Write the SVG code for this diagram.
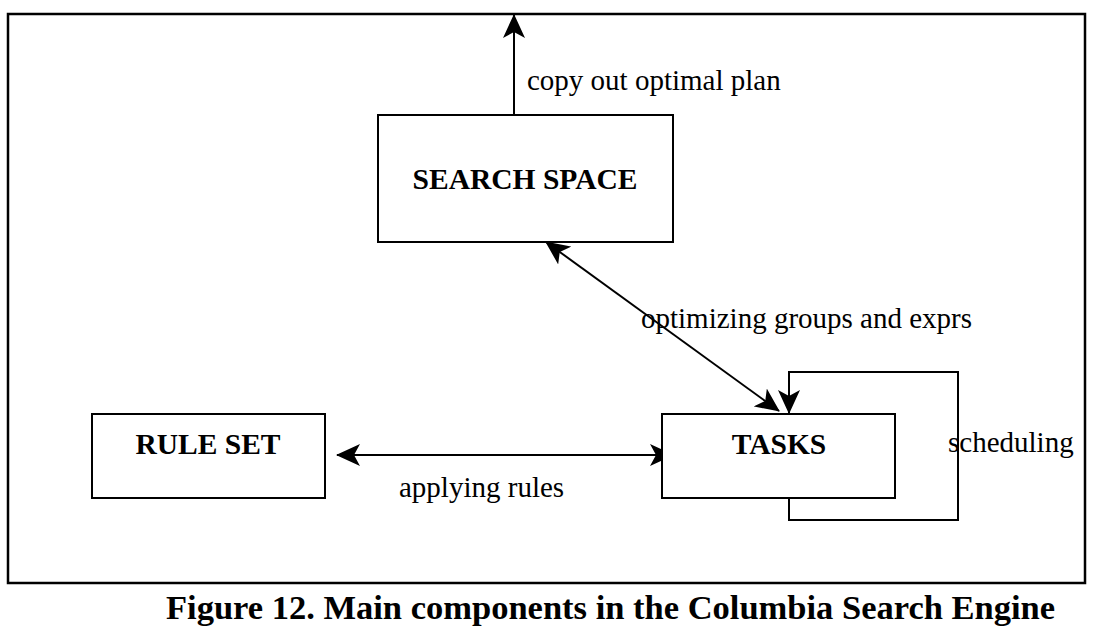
<svg xmlns="http://www.w3.org/2000/svg" width="1098" height="626" viewBox="0 0 1098 626">
<defs>
<style>
.box{fill:#fff;stroke:#000;stroke-width:2}
.ln{fill:none;stroke:#000;stroke-width:2}
.lbl{font-family:"Liberation Serif","Times New Roman",serif;font-size:29px;fill:#000}
.node{font-family:"Liberation Serif","Times New Roman",serif;font-size:29.5px;font-weight:bold;fill:#000;text-anchor:middle}
.cap{font-family:"Liberation Serif","Times New Roman",serif;font-size:34.5px;font-weight:bold;fill:#000}
</style>
<marker id="ah" viewBox="0 0 24 22" refX="23" refY="11" markerWidth="24" markerHeight="22" markerUnits="userSpaceOnUse" orient="auto-start-reverse">
<path d="M0,0 L24,11 L0,22 L6,11 Z" fill="#000"/>
</marker>
</defs>
<rect width="1098" height="626" fill="#fff"/>
<rect x="8" y="14" width="1077" height="569" fill="none" stroke="#000" stroke-width="2.5"/>
<g id="connectors">
<line class="ln" x1="514" y1="119" x2="514" y2="15" marker-end="url(#ah)"/>
<line class="ln" x1="546" y1="242" x2="779" y2="411" marker-start="url(#ah)" marker-end="url(#ah)"/>
<line class="ln" x1="337" y1="455" x2="673" y2="455" marker-start="url(#ah)" marker-end="url(#ah)"/>
<path class="ln" d="M789,498 V520 H958 V372 H789 V413" marker-end="url(#ah)"/>
</g>
<g id="search-space">
<rect class="box" x="378" y="115" width="295" height="127"/>
<text class="node" x="525" y="189">SEARCH SPACE</text>
</g>
<g id="rule-set">
<rect class="box" x="92" y="414" width="233" height="84"/>
<text class="node" x="208" y="454">RULE SET</text>
</g>
<g id="tasks">
<rect class="box" x="662" y="414" width="233" height="84"/>
<text class="node" x="779" y="454">TASKS</text>
</g>
<g id="labels">
<text class="lbl" x="527" y="90">copy out optimal plan</text>
<text class="lbl" x="641" y="328">optimizing groups and exprs</text>
<text class="lbl" x="948" y="452">scheduling</text>
<text class="lbl" x="399" y="497">applying rules</text>
</g>
<text class="cap" x="166" y="619">Figure 12. Main components in the Columbia Search Engine</text>
</svg>
